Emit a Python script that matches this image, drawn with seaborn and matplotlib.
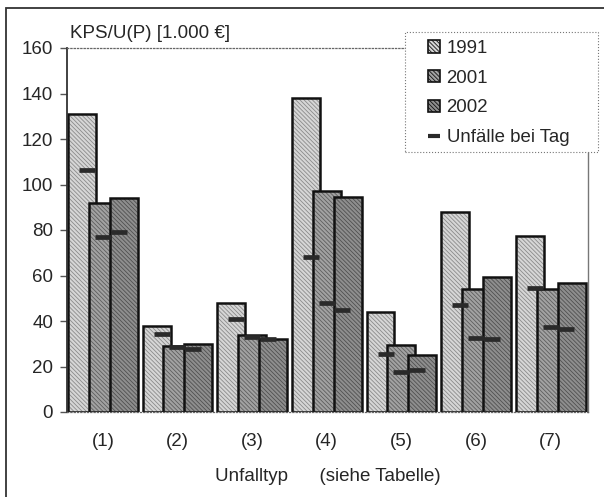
import numpy as np
import pandas as pd
import matplotlib
matplotlib.use("Agg")
import matplotlib.pyplot as plt
from matplotlib.patches import Rectangle, Patch
from matplotlib.lines import Line2D
import seaborn as sns

# ---- data ----
categories = ['(1)', '(2)', '(3)', '(4)', '(5)', '(6)', '(7)']
years = ['1991', '2001', '2002']
v1991 = [131, 38, 48, 138, 44, 88, 77.5]
v2001 = [92, 29, 34, 97, 29.5, 54, 54]
v2002 = [94, 30, 32, 94.5, 25, 59.5, 56.5]
tag1991 = [106.5, 34.5, 41, 68, 25.5, 47, 54.5]
tag2001 = [77, 28.5, 33, 48, 17.5, 32.5, 37.5]
tag2002 = [79, 27.5, 32, 45, 18.5, 32, 36.5]
yticks = [0, 20, 40, 60, 80, 100, 120, 140, 160]
title = 'KPS/U(P) [1.000 €]'
xlabel = 'Unfalltyp      (siehe Tabelle)'
marker_label = 'Unfälle bei Tag'

sns.set_style('white')
plt.rcParams['font.family'] = ['Liberation Sans', 'DejaVu Sans']
plt.rcParams['hatch.linewidth'] = 0.6

W, H = 604, 497
fig = plt.figure(figsize=(W / 100, H / 100), dpi=100)
ax = fig.add_axes([67 / W, 1 - 412 / H, (588 - 67) / W, (412 - 48) / H])

pos = np.arange(len(categories))
bar_off = [-0.28, 0.0, 0.28]
mark_off = [-0.21, 0.0, 0.21]
bar_w = 0.375
faces = ['#d6d6d6', '#a2a2a2', '#8e8e8e']
hatchc = ['#8a8a8a', '#5e5e5e', '#505050']
hatch = '\\\\\\\\\\\\\\\\'
bar_vals = [v1991, v2001, v2002]
tag_vals = [tag1991, tag2001, tag2002]

for k in range(3):
    n_before = len(ax.patches)
    df = pd.DataFrame({'x': pos + bar_off[k], 'y': bar_vals[k]})
    sns.barplot(data=df, x='x', y='y', native_scale=True, width=bar_w,
                color=faces[k], saturation=1, errorbar=None, ax=ax)
    new = ax.patches[n_before:]
    for p in list(new):
        p.set_facecolor(faces[k])
        p.set_hatch(hatch)
        p.set_edgecolor(hatchc[k])
        p.set_linewidth(0)
        p.set_zorder(2 + k * 0.1)
    for p in list(new):
        ax.add_patch(Rectangle(p.get_xy(), p.get_width(), p.get_height(),
                               fill=False, ec='#111111', lw=1.8,
                               zorder=2 + k * 0.1 + 0.05))

for k in range(3):
    dm = pd.DataFrame({'x': pos + mark_off[k], 'y': tag_vals[k]})
    sns.scatterplot(data=dm, x='x', y='y', marker='_', s=125, linewidth=3.4,
                    color='#2a2a2a', ax=ax, zorder=5, legend=False)

ax.set_xlim(-0.48, 6.5)
ax.set_ylim(0, 160)
ax.set_yticks(yticks)
ax.set_yticklabels([str(t) for t in yticks], fontsize=13.5)
ax.set_xticks(pos)
ax.set_xticklabels(categories, fontsize=13.5)
ax.tick_params(axis='x', length=0, pad=15)
ax.tick_params(axis='y', length=5, width=1, color='#555555', pad=5, left=True)
ax.set_ylabel('')
ax.set_xlabel(xlabel, fontsize=13.5, labelpad=13)

for s in ['top', 'bottom']:
    ax.spines[s].set_linestyle(':')
    ax.spines[s].set_color('#666666')
    ax.spines[s].set_linewidth(0.9)
ax.spines['right'].set_color('#777777')
ax.spines['right'].set_linewidth(1.0)
ax.spines['left'].set_color('#333333')
ax.spines['left'].set_linewidth(1.3)

fig.text(70 / W, 1 - 33 / H, title, fontsize=13.5, va='center', ha='left')

# outer frame
fig.patches.append(Rectangle((6 / W, -0.1), 2, 1 - 8 / H + 0.1, fill=False,
                             ec='#333333', lw=1.3, transform=fig.transFigure,
                             figure=fig, clip_on=False, zorder=6))

# legend box
fig.patches.append(Rectangle((405 / W, 1 - 152 / H), (598 - 405) / W, (152 - 32) / H,
                             fc='white', ec='#777777', lw=0.8, ls=':',
                             transform=fig.transFigure, figure=fig, zorder=4))
handles = [Patch(facecolor=faces[k], edgecolor='#111111', hatch=hatch, lw=1.2)
           for k in range(3)]
handles.append(Line2D([], [], color='#2a2a2a', marker='_', ls='none',
                      markersize=8, markeredgewidth=3))
leg = fig.legend(handles, years + [marker_label], loc='upper left',
                 bbox_to_anchor=(428 / W, 1 - 40 / H), frameon=False,
                 fontsize=13.4, borderpad=0, borderaxespad=0,
                 handlelength=0.65, handleheight=0.65, handletextpad=0.35,
                 labelspacing=0.68)
leg.set_zorder(7)

fig.savefig('out.png', dpi=100)
